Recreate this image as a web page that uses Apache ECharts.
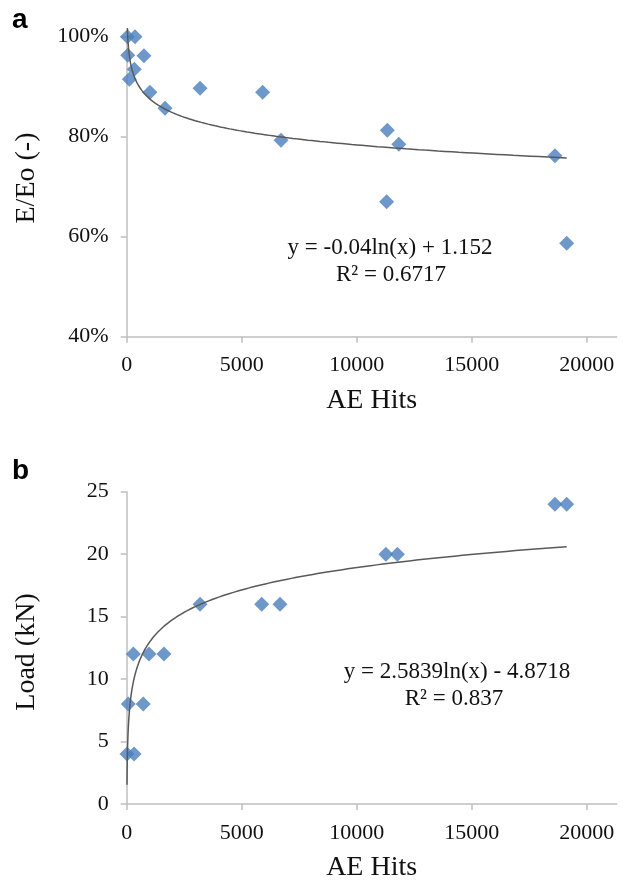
<!DOCTYPE html>
<html>
<head>
<meta charset="utf-8">
<script src="https://cdn.jsdelivr.net/npm/echarts@6/dist/echarts.min.js"></script>
<style>
  html, body { margin: 0; padding: 0; background: #fff; }
  #chart { width: 624px; height: 883px; }
</style>
</head>
<body>
<div id="chart"></div>
<script>
// Panel a: stiffness ratio E/Eo against acoustic emission hits
const aHits  = [29, 45, 115, 330, 360, 750, 1010, 1665, 3190, 5910, 6710, 11300, 11330, 11830, 18620, 19130];
const aRatio = [1.00, 0.963, 0.915, 0.935, 1.00, 0.962, 0.889, 0.857, 0.897, 0.889, 0.793, 0.67, 0.813, 0.785, 0.762, 0.587];

// Panel b: load against acoustic emission hits
const bHits = [12, 70, 320, 720, 290, 970, 1620, 3190, 5870, 6665, 11270, 11770, 18620, 19130];
const bLoad = [4, 8, 4, 8, 12, 12, 12, 16, 16, 16, 20, 20, 24, 24];

// Logarithmic trend lines y = k*ln(x) + c
const aFit = { k: -0.04, c: 1.152, r2: '0.6717' };
const bFit = { k: 2.5839, c: -4.8718, r2: '0.837' };

const xTicks = [0, 5000, 10000, 15000, 20000];
const aTicks = [0.4, 0.6, 0.8, 1.0];
const bTicks = [0, 5, 10, 15, 20, 25];

function trend(xs, fit) {
  const lo = Math.min(...xs), hi = Math.max(...xs);
  const pts = [];
  const n = 300;
  for (let i = 0; i <= n; i++) {
    const x = Math.exp(Math.log(lo) + (Math.log(hi) - Math.log(lo)) * i / n);
    pts.push([x, fit.k * Math.log(x) + fit.c]);
  }
  return pts;
}

const serif = 'Liberation Serif, Times New Roman, serif';
const axisGray = '#BFBFBF';
const markerBlue = '#4A7EBB';
const curveGray = '#595959';

function xAxisCfg(gridIndex) {
  return {
    type: 'value', gridIndex: gridIndex, min: 0, max: 21300,
    name: 'AE Hits', nameLocation: 'middle', nameGap: 50,
    nameTextStyle: { fontFamily: serif, fontSize: 28, color: '#111' },
    axisLine: { show: true, lineStyle: { color: axisGray, width: 1.5 } },
    axisTick: { show: true, inside: false, length: 6, customValues: xTicks, lineStyle: { color: axisGray, width: 1.5 } },
    axisLabel: { customValues: xTicks, margin: 18, fontFamily: serif, fontSize: 22, color: '#111', formatter: v => String(v) },
    splitLine: { show: false }
  };
}

function yAxisCfg(gridIndex, min, max, interval, ticks, fmt) {
  return {
    type: 'value', gridIndex: gridIndex, min: min, max: max, interval: interval,
    axisLine: { show: true, onZero: false, lineStyle: { color: axisGray, width: 1.5 } },
    axisTick: { show: true, inside: false, length: 6, customValues: ticks, lineStyle: { color: axisGray, width: 1.5 } },
    axisLabel: { customValues: ticks, margin: 18, fontFamily: serif, fontSize: 22, color: '#111', formatter: fmt },
    splitLine: { show: false }
  };
}

const chart = echarts.init(document.getElementById('chart'), null, { renderer: 'canvas' });

chart.setOption({
  animation: false,
  backgroundColor: '#fff',
  grid: [
    { left: 126.7, right: 7.4, top: 36.7, bottom: 546.3 },
    { left: 126.7, right: 7.4, top: 491.7, bottom: 77.3 }
  ],
  xAxis: [xAxisCfg(0), xAxisCfg(1)],
  yAxis: [
    yAxisCfg(0, 0.4, 1.0, 0.2, aTicks, v => Math.round(v * 100) + '%'),
    yAxisCfg(1, 0, 25, 5, bTicks, v => String(v))
  ],
  series: [
    {
      type: 'scatter', xAxisIndex: 0, yAxisIndex: 0,
      symbol: 'diamond', symbolSize: 15,
      itemStyle: { color: markerBlue },
      data: aHits.map((x, i) => [x, aRatio[i]])
    },
    {
      type: 'line', xAxisIndex: 0, yAxisIndex: 0,
      showSymbol: false, symbol: 'none', clip: false,
      lineStyle: { color: curveGray, width: 1.5 },
      data: trend(aHits, aFit)
    },
    {
      type: 'scatter', xAxisIndex: 1, yAxisIndex: 1,
      symbol: 'diamond', symbolSize: 15,
      itemStyle: { color: markerBlue },
      data: bHits.map((x, i) => [x, bLoad[i]])
    },
    {
      type: 'line', xAxisIndex: 1, yAxisIndex: 1,
      showSymbol: false, symbol: 'none', clip: false,
      lineStyle: { color: curveGray, width: 1.5 },
      data: trend(bHits, bFit)
    }
  ],
  graphic: [
    // panel letters
    { type: 'text', left: 12, top: 6, style: { text: 'a', font: 'bold 28px Liberation Sans, Arial, sans-serif', fill: '#000' } },
    { type: 'text', left: 12, top: 457, style: { text: 'b', font: 'bold 28px Liberation Sans, Arial, sans-serif', fill: '#000' } },
    // vertical axis titles
    { type: 'text', x: 27, y: 178, rotation: Math.PI / 2,
      style: { text: 'E/Eo (-)', font: '28px ' + serif, fill: '#111', align: 'center', verticalAlign: 'middle' } },
    { type: 'text', x: 27, y: 652, rotation: Math.PI / 2,
      style: { text: 'Load (kN)', font: '28px ' + serif, fill: '#111', align: 'center', verticalAlign: 'middle' } },
    // fitted equations
    { type: 'text', x: 390, y: 248,
      style: { text: 'y = -0.04ln(x) + 1.152', font: '23px ' + serif, fill: '#111', align: 'center', verticalAlign: 'middle' } },
    { type: 'text', x: 391, y: 275,
      style: { text: 'R² = ' + aFit.r2, font: '23px ' + serif, fill: '#111', align: 'center', verticalAlign: 'middle' } },
    { type: 'text', x: 457, y: 672,
      style: { text: 'y = 2.5839ln(x) - 4.8718', font: '23px ' + serif, fill: '#111', align: 'center', verticalAlign: 'middle' } },
    { type: 'text', x: 454, y: 699,
      style: { text: 'R² = ' + bFit.r2, font: '23px ' + serif, fill: '#111', align: 'center', verticalAlign: 'middle' } }
  ]
});
</script>
</body>
</html>
